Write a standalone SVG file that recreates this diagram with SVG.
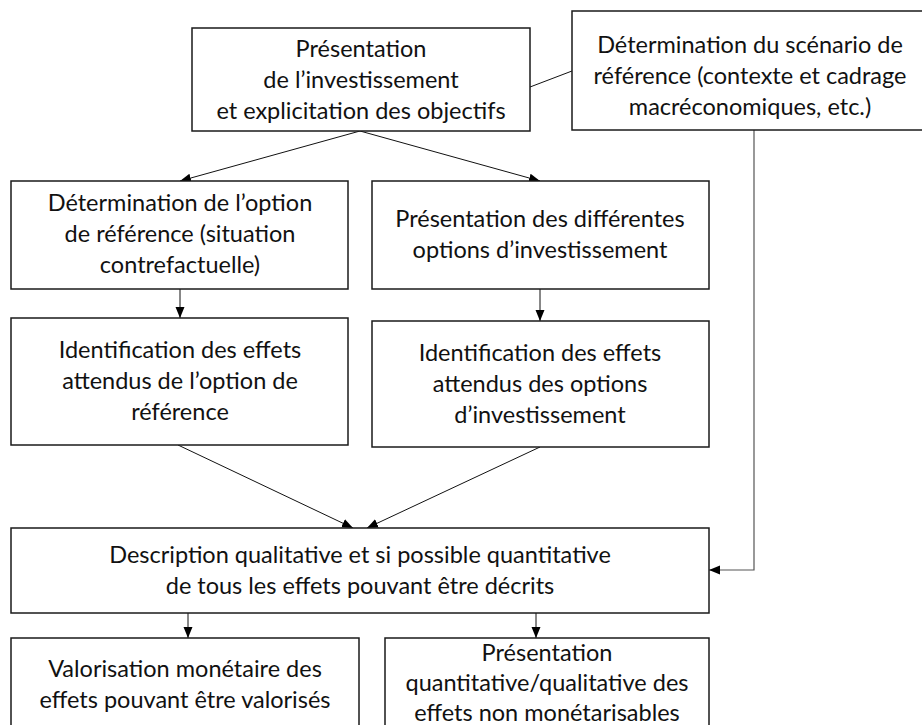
<svg xmlns="http://www.w3.org/2000/svg" width="922" height="725" viewBox="0 0 922 725">
<style>
.box{fill:#fff;stroke:#1a1a1a;stroke-width:1.5}
.t{font-family:Lato,"Liberation Sans",sans-serif;font-size:23.5px;fill:#111;text-anchor:middle}
.c{fill:none;stroke:#111;stroke-width:1}
.g{fill:none;stroke:#555;stroke-width:1.2}
</style>
<defs>
<marker id="ah" markerUnits="userSpaceOnUse" markerWidth="12" markerHeight="10" refX="11" refY="4.5" orient="auto">
<path d="M0,0 L11,4.5 L0,9 z" fill="#000"/>
</marker>
</defs>
<rect width="922" height="725" fill="#fff"/>
<g id="connectors">
<line class="c" x1="530" y1="87" x2="572" y2="71"/>
<line class="c" x1="360" y1="131" x2="180" y2="181" marker-end="url(#ah)"/>
<line class="c" x1="360" y1="131" x2="540" y2="181" marker-end="url(#ah)"/>
<line class="c" x1="180" y1="289" x2="180" y2="318" marker-end="url(#ah)"/>
<line class="c" x1="540" y1="289" x2="540" y2="321" marker-end="url(#ah)"/>
<line class="c" x1="178" y1="445" x2="353" y2="528" marker-end="url(#ah)"/>
<line class="c" x1="540" y1="447" x2="367" y2="528" marker-end="url(#ah)"/>
<polyline class="g" points="754,130 754,570 709,570" marker-end="url(#ah)"/>
<line class="c" x1="188" y1="613" x2="188" y2="638" marker-end="url(#ah)"/>
<line class="c" x1="536" y1="613" x2="536" y2="638" marker-end="url(#ah)"/>
</g>
<g id="n-presentation">
<rect class="box" x="192" y="28" width="338" height="103"/>
<text class="t" x="361" y="57">Présentation</text>
<text class="t" x="361" y="88">de l’investissement</text>
<text class="t" x="361" y="119">et explicitation des objectifs</text>
</g>
<g id="n-scenario">
<rect class="box" x="572" y="11" width="360" height="119"/>
<text class="t" x="750" y="53">Détermination du scénario de</text>
<text class="t" x="750" y="84">référence (contexte et cadrage</text>
<text class="t" x="750" y="115">macréconomiques, etc.)</text>
</g>
<g id="n-option-ref">
<rect class="box" x="11" y="181" width="337" height="108"/>
<text class="t" x="180" y="211">Détermination de l’option</text>
<text class="t" x="180" y="242">de référence (situation</text>
<text class="t" x="180" y="273">contrefactuelle)</text>
</g>
<g id="n-options">
<rect class="box" x="372" y="181" width="337" height="108"/>
<text class="t" x="540" y="227">Présentation des différentes</text>
<text class="t" x="540" y="258">options d’investissement</text>
</g>
<g id="n-effets-ref">
<rect class="box" x="11" y="318" width="337" height="127"/>
<text class="t" x="180" y="358">Identification des effets</text>
<text class="t" x="180" y="389">attendus de l’option de</text>
<text class="t" x="180" y="420">référence</text>
</g>
<g id="n-effets-options">
<rect class="box" x="372" y="321" width="337" height="126"/>
<text class="t" x="540" y="361">Identification des effets</text>
<text class="t" x="540" y="392">attendus des options</text>
<text class="t" x="540" y="423">d’investissement</text>
</g>
<g id="n-description">
<rect class="box" x="11" y="528" width="698" height="85"/>
<text class="t" x="360" y="563">Description qualitative et si possible quantitative</text>
<text class="t" x="360" y="594">de tous les effets pouvant être décrits</text>
</g>
<g id="n-valorisation">
<rect class="box" x="11" y="638" width="348" height="100"/>
<text class="t" x="185" y="677">Valorisation monétaire des</text>
<text class="t" x="185" y="708">effets pouvant être valorisés</text>
</g>
<g id="n-non-monetaire">
<rect class="box" x="385" y="638" width="324" height="100"/>
<text class="t" x="547" y="661">Présentation</text>
<text class="t" x="547" y="691">quantitative/qualitative des</text>
<text class="t" x="547" y="721">effets non monétarisables</text>
</g>
</svg>
